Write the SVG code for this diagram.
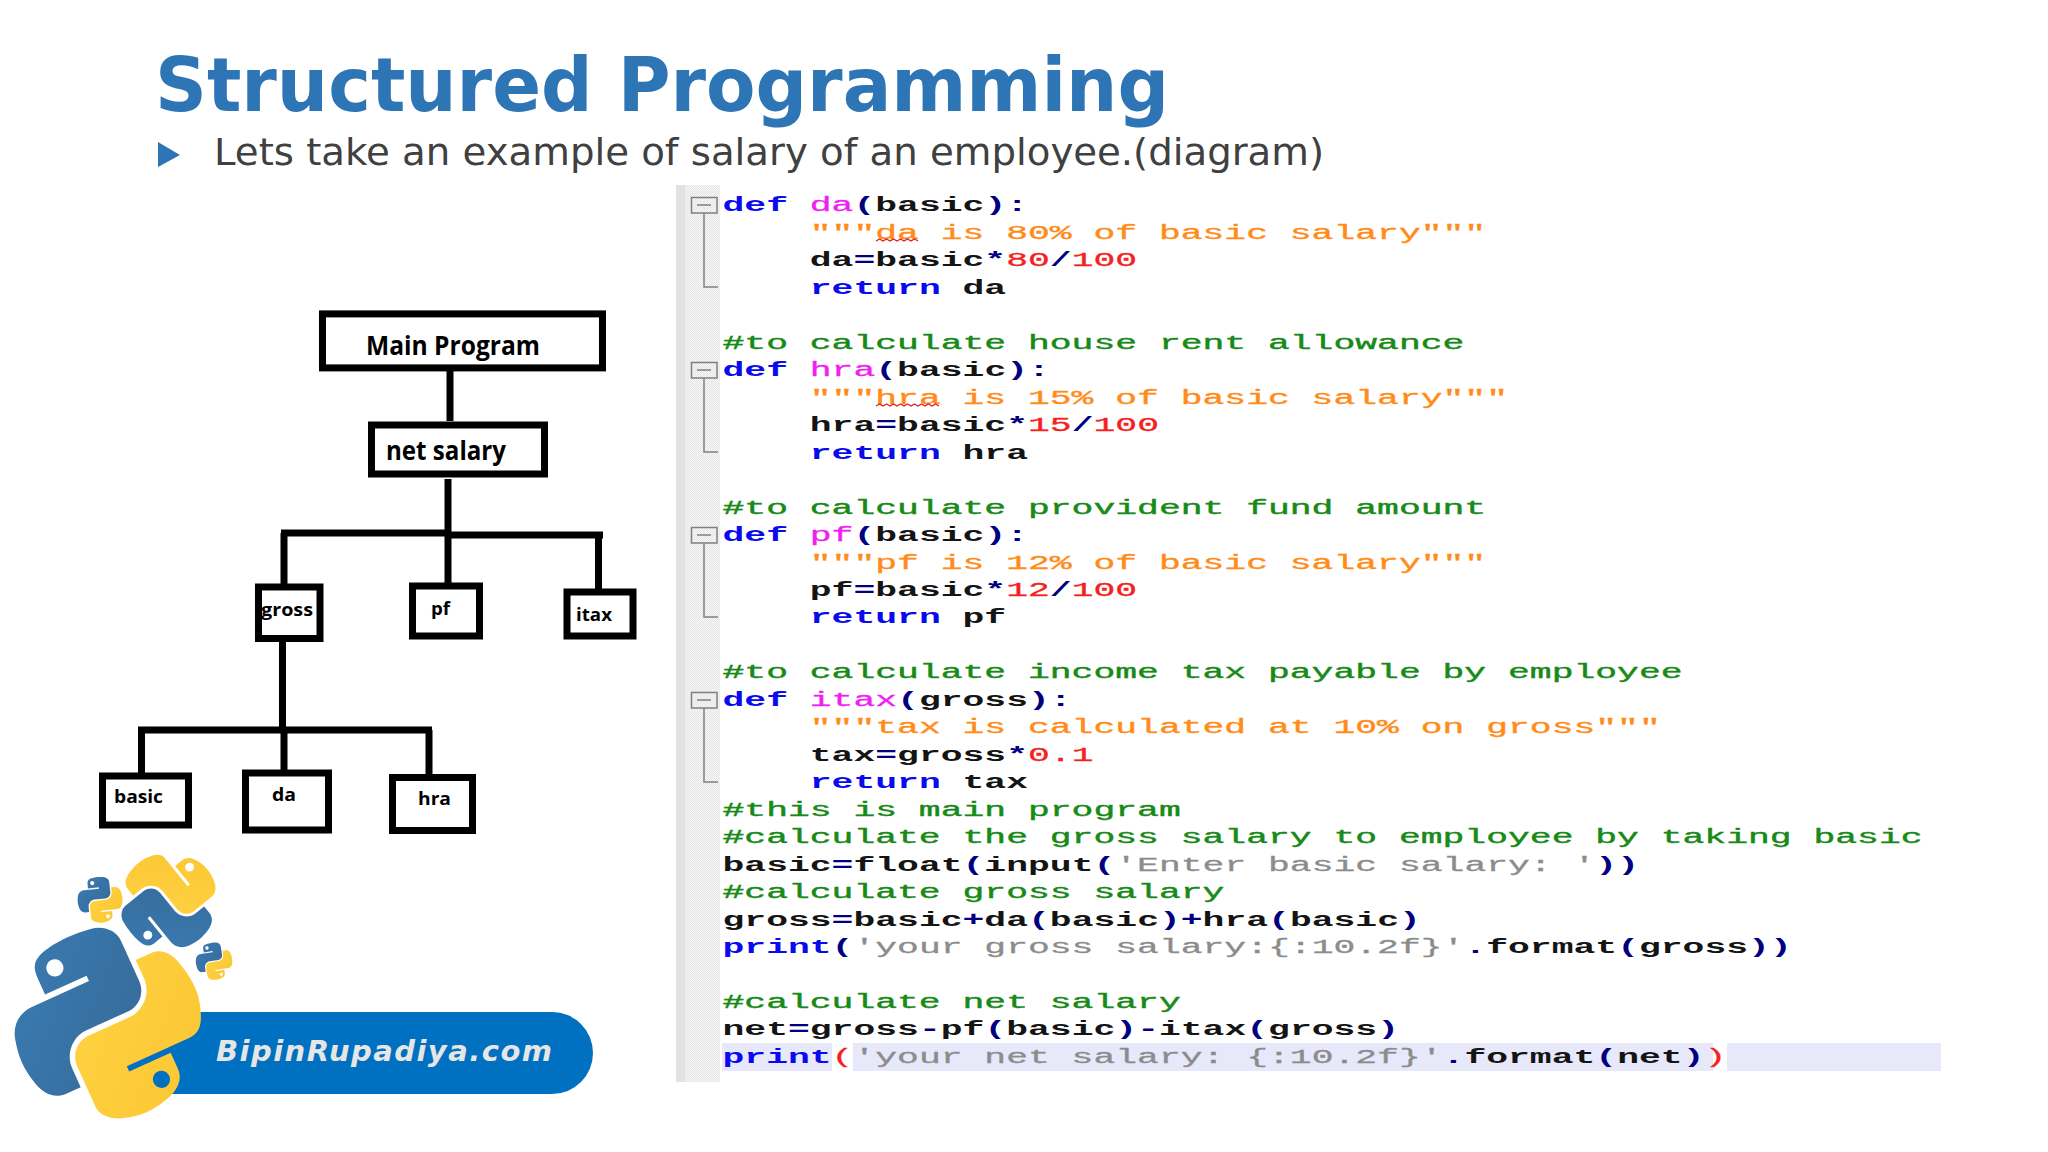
<svg xmlns="http://www.w3.org/2000/svg" xmlns:xlink="http://www.w3.org/1999/xlink" width="2048" height="1152" viewBox="0 0 2048 1152">
<style>
.title{font-family:"DejaVu Sans",Verdana,sans-serif;font-weight:700;font-size:75px;fill:#2e75b6}
.sub{font-family:"DejaVu Sans",Verdana,sans-serif;font-size:38px;fill:#404040}
.box{fill:#fff;stroke:#000;stroke-width:7}
.wire{fill:none;stroke:#000;stroke-width:7}
.lbl{font-family:"Open Sans","Liberation Sans",sans-serif;font-weight:700;fill:#000}
.code text{font-family:"Liberation Mono",monospace;font-weight:700;font-size:21px;fill:#141414}
.kw{fill:#0a0aee}.fn{fill:#f020f0;font-weight:400;stroke:#f020f0;stroke-width:.3}.op{fill:#000080}.num{fill:#f52020;font-weight:400;stroke:#f52020;stroke-width:.3}.doc{fill:#ff8c1a;font-weight:400;stroke:#ff8c1a;stroke-width:.35}.str{fill:#8c8c8c;font-weight:400;stroke:#8c8c8c;stroke-width:.3}.cm{fill:#178a17;font-weight:400;stroke:#178a17;stroke-width:.4}
.fold{fill:none;stroke:#808080;stroke-width:1.5}
.sq{fill:none;stroke:#e02020;stroke-width:1.3}
</style>
<defs>
<linearGradient id="bl" x1="0" y1="0" x2="1" y2="1"><stop offset="0" stop-color="#3a7cb5"/><stop offset="1" stop-color="#366a96"/></linearGradient>
<linearGradient id="yl" x1="0" y1="0" x2="1" y2="1"><stop offset="0" stop-color="#ffd343"/><stop offset="1" stop-color="#fbc531"/></linearGradient>
<pattern id="dots" width="2" height="2" patternUnits="userSpaceOnUse"><rect width="2" height="2" fill="#f6f6f6"/><rect width="1" height="1" fill="#e6e6e6"/><rect x="1" y="1" width="1" height="1" fill="#e6e6e6"/></pattern>
<g id="py">
<path fill="url(#bl)" fill-rule="evenodd" d="M54.919 0.001C50.335 0.022 45.958 0.413 42.106 1.095 30.760 3.099 28.700 7.295 28.700 15.032V25.250H55.513V28.656H18.638C10.845 28.656 3.912 33.377 1.761 42.356-.720 52.648-.830 59.071 1.761 69.813 3.676 77.809 8.250 83.506 16.105 83.506H25.398V71.163C25.398 62.245 33.113 54.381 42.275 54.381H69.057C76.512 54.381 82.463 48.243 82.463 40.756V15.032C82.463 7.727 76.300 2.238 69.057 1.095 64.472.373 59.715.001 54.919.001ZM40.419 8.220C43.188 8.220 45.450 10.518 45.450 13.345 45.450 16.162 43.188 18.438 40.419 18.438 37.640 18.438 35.388 16.162 35.388 13.345 35.388 10.518 37.640 8.220 40.419 8.220Z"/>
<path fill="url(#yl)" fill-rule="evenodd" d="M85.638 28.656V40.656C85.638 49.960 77.751 57.791 68.757 57.791H41.975C34.638 57.791 28.569 64.069 28.569 71.416V97.140C28.569 104.444 34.925 108.741 41.975 110.813 50.417 113.296 58.513 113.744 68.613 110.813 75.327 108.869 81.976 104.958 81.976 97.140V86.844H55.194V83.438H95.382C103.176 83.438 106.080 78.002 108.791 69.844 111.591 61.446 111.472 53.369 108.791 42.595 106.865 34.839 103.187 28.656 95.382 28.656H85.638ZM70.575 93.750C73.354 93.750 75.606 96.027 75.606 98.844 75.606 101.671 73.354 103.969 70.575 103.969 67.806 103.969 65.544 101.671 65.544 98.844 65.544 96.027 67.806 93.750 70.575 93.750Z"/>
</g>
</defs>
<rect width="2048" height="1152" fill="#fff"/>

<text class="title" x="155" y="111" textLength="1014" lengthAdjust="spacingAndGlyphs">Structured Programming</text>
<polygon points="158,142 180,155 158,167" fill="#2e75b6"/>
<text class="sub" x="214" y="165" textLength="1110" lengthAdjust="spacingAndGlyphs">Lets take an example of salary of an employee.(diagram)</text>

<g id="connectors">
<path class="wire" d="M450 371V421"/>
<path class="wire" d="M448 479V535"/>
<path class="wire" d="M281 533H448M448 535H603"/>
<path class="wire" d="M284 533V586M448 535V584M598.500 535V589"/>
<path class="wire" d="M282.500 642V730"/>
<path class="wire" d="M138 730H432M141.500 730V775M284 730V772M429 730V776"/>
</g>

<g id="node-main"><rect class="box" x="322.500" y="313.900" width="280" height="54"/><text class="lbl" x="366" y="355" font-size="27" textLength="174" lengthAdjust="spacingAndGlyphs">Main Program</text></g>
<g id="node-net"><rect class="box" x="371.500" y="425" width="173" height="49"/><text class="lbl" x="386" y="460" font-size="27" textLength="120" lengthAdjust="spacingAndGlyphs">net salary</text></g>
<g id="node-gross"><rect class="box" x="258.500" y="587" width="61.500" height="51.500"/><text class="lbl" x="261" y="616" font-size="18" textLength="52" lengthAdjust="spacingAndGlyphs">gross</text></g>
<g id="node-pf"><rect class="box" x="412.500" y="586" width="67" height="50"/><text class="lbl" x="431" y="615" font-size="18" textLength="19" lengthAdjust="spacingAndGlyphs">pf</text></g>
<g id="node-itax"><rect class="box" x="567" y="592" width="66" height="44"/><text class="lbl" x="576" y="620.500" font-size="18" textLength="36" lengthAdjust="spacingAndGlyphs">itax</text></g>
<g id="node-basic"><rect class="box" x="102.500" y="776" width="86" height="49"/><text class="lbl" x="114" y="803" font-size="18" textLength="49" lengthAdjust="spacingAndGlyphs">basic</text></g>
<g id="node-da"><rect class="box" x="245.500" y="773" width="83" height="57"/><text class="lbl" x="272" y="801" font-size="18" textLength="24" lengthAdjust="spacingAndGlyphs">da</text></g>
<g id="node-hra"><rect class="box" x="392.500" y="777.500" width="80" height="53"/><text class="lbl" x="418" y="805" font-size="18" textLength="33" lengthAdjust="spacingAndGlyphs">hra</text></g>

<g id="editor">
<rect x="676" y="185" width="44" height="897" fill="url(#dots)"/>
<rect x="676" y="185" width="9" height="897" fill="#e2e2e2"/>
<rect x="722" y="1043" width="110" height="28" fill="#e8e8fb"/>
<rect x="853" y="1043" width="860" height="28" fill="#e8e8fb"/>
<rect x="1727" y="1043" width="214" height="28" fill="#e8e8fb"/>
<g id="folds">
<path class="fold" d="M691.500 197.500H717V213H691.500ZM697 205H711M704 213V287H718"/>
<path class="fold" d="M691.500 362.500H717V378H691.500ZM697 370H711M704 378V452H718"/>
<path class="fold" d="M691.500 527.500H717V543H691.500ZM697 535H711M704 543V617H718"/>
<path class="fold" d="M691.500 692.500H717V708H691.500ZM697 700H711M704 708V782H718"/>
</g>
<g class="code">
<g transform="translate(722.500 0.500) scale(1.732 1)">
<text y="211"><tspan class="kw">def</tspan> <tspan class="fn">da</tspan><tspan class="op">(</tspan>basic<tspan class="op">):</tspan></text>
<text x="50.400" y="238.500"><tspan class="doc">"""da is 80% of basic salary"""</tspan></text>
<text x="50.400" y="266">da<tspan class="op">=</tspan>basic<tspan class="op">*</tspan><tspan class="num">80</tspan><tspan class="op">/</tspan><tspan class="num">100</tspan></text>
<text x="50.400" y="293.400"><tspan class="kw">return</tspan> da</text>
<text y="348.400"><tspan class="cm">#to calculate house rent allowance</tspan></text>
<text y="375.800"><tspan class="kw">def</tspan> <tspan class="fn">hra</tspan><tspan class="op">(</tspan>basic<tspan class="op">):</tspan></text>
<text x="50.400" y="403.300"><tspan class="doc">"""hra is 15% of basic salary"""</tspan></text>
<text x="50.400" y="430.800">hra<tspan class="op">=</tspan>basic<tspan class="op">*</tspan><tspan class="num">15</tspan><tspan class="op">/</tspan><tspan class="num">100</tspan></text>
<text x="50.400" y="458.200"><tspan class="kw">return</tspan> hra</text>
<text y="513.200"><tspan class="cm">#to calculate provident fund amount</tspan></text>
<text y="540.600"><tspan class="kw">def</tspan> <tspan class="fn">pf</tspan><tspan class="op">(</tspan>basic<tspan class="op">):</tspan></text>
<text x="50.400" y="568.100"><tspan class="doc">"""pf is 12% of basic salary"""</tspan></text>
<text x="50.400" y="595.600">pf<tspan class="op">=</tspan>basic<tspan class="op">*</tspan><tspan class="num">12</tspan><tspan class="op">/</tspan><tspan class="num">100</tspan></text>
<text x="50.400" y="623"><tspan class="kw">return</tspan> pf</text>
<text y="678"><tspan class="cm">#to calculate income tax payable by employee</tspan></text>
<text y="705.500"><tspan class="kw">def</tspan> <tspan class="fn">itax</tspan><tspan class="op">(</tspan>gross<tspan class="op">):</tspan></text>
<text x="50.400" y="733"><tspan class="doc">"""tax is calculated at 10% on gross"""</tspan></text>
<text x="50.400" y="760.400">tax<tspan class="op">=</tspan>gross<tspan class="op">*</tspan><tspan class="num">0.1</tspan></text>
<text x="50.400" y="787.900"><tspan class="kw">return</tspan> tax</text>
<text y="815.300"><tspan class="cm">#this is main program</tspan></text>
<text y="842.800"><tspan class="cm">#calculate the gross salary to employee by taking basic</tspan></text>
<text y="870.300">basic<tspan class="op">=</tspan>float<tspan class="op">(</tspan>input<tspan class="op">(</tspan><tspan class="str">'Enter basic salary: '</tspan><tspan class="op">))</tspan></text>
<text y="897.700"><tspan class="cm">#calculate gross salary</tspan></text>
<text y="925.200">gross<tspan class="op">=</tspan>basic<tspan class="op">+</tspan>da<tspan class="op">(</tspan>basic<tspan class="op">)+</tspan>hra<tspan class="op">(</tspan>basic<tspan class="op">)</tspan></text>
<text y="952.700"><tspan class="kw">print</tspan><tspan class="op">(</tspan><tspan class="str">'your gross salary:{:10.2f}'</tspan><tspan class="op">.</tspan>format<tspan class="op">(</tspan>gross<tspan class="op">))</tspan></text>
<text y="1007.600"><tspan class="cm">#calculate net salary</tspan></text>
<text y="1035">net<tspan class="op">=</tspan>gross<tspan class="op">-</tspan>pf<tspan class="op">(</tspan>basic<tspan class="op">)-</tspan>itax<tspan class="op">(</tspan>gross<tspan class="op">)</tspan></text>
<text y="1062.500"><tspan class="kw">print</tspan><tspan class="num">(</tspan><tspan class="str">'your net salary: {:10.2f}'</tspan><tspan class="op">.</tspan>format<tspan class="op">(</tspan>net<tspan class="op">)</tspan><tspan class="num">)</tspan></text>
</g>
</g>
<path class="sq" d="M876 241l3.500-2 3.500 2 3.500-2 3.500 2 3.500-2 3.500 2 3.500-2 3.500 2 3.500-2 3.500 2 3.500-2 3.500 2"/>
<path class="sq" d="M876 406l3.500-2 3.500 2 3.500-2 3.500 2 3.500-2 3.500 2 3.500-2 3.500 2 3.500-2 3.500 2 3.500-2 3.500 2 3.500-2 3.500 2 3.500-2 3.500 2 3.500-2 3.500 2"/>
</g>

<g id="logo">
<rect x="120" y="1012" width="473" height="82" rx="41" fill="#0070c0"/>
<use xlink:href="#py" href="#py" transform="translate(107.500 1023) rotate(-24.300) scale(1.700) translate(-55.300 -55.600)"/>
<use xlink:href="#py" href="#py" transform="translate(168.500 901.500) rotate(-129) scale(0.880) translate(-55.300 -55.600)"/>
<use xlink:href="#py" href="#py" transform="translate(100 899.500) rotate(-6) scale(0.405) translate(-55.300 -55.600)"/>
<use xlink:href="#py" href="#py" transform="translate(214 961) rotate(-9) scale(0.330) translate(-55.300 -55.600)"/>
<text x="216" y="1061" font-family="'DejaVu Sans',Verdana,sans-serif" font-weight="700" font-style="italic" font-size="29" fill="#e6e6e6" textLength="336" lengthAdjust="spacing">BipinRupadiya.com</text>
</g>
</svg>
